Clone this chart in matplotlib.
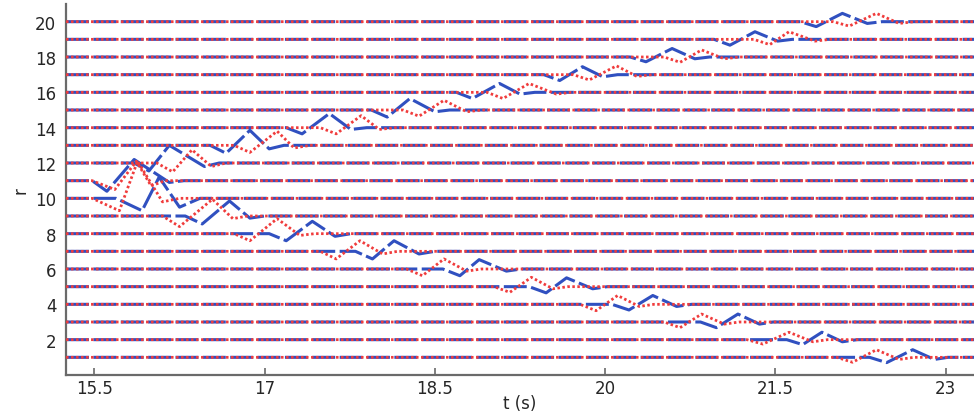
import matplotlib
matplotlib.use('Agg')
import matplotlib.pyplot as plt

# rows (r) and time window (s)
rows = list(range(1, 21))
t_lim = (15.25, 23.25)
x_ticks = [15.5, 17, 18.5, 20, 21.5, 23]
y_ticks = [2, 4, 6, 8, 10, 12, 14, 16, 18, 20]

# blue dashed trace, per row: times of (start, dip, peak, post-dip, end)
blue_times = [
    (22.33, 22.48, 22.71, 22.90, 23.02),
    (21.60, 21.74, 21.91, 22.09, 22.22),
    (20.84, 20.98, 21.17, 21.36, 21.48),
    (20.06, 20.21, 20.42, 20.63, 20.76),
    (19.33, 19.48, 19.66, 19.89, 20.02),
    (18.57, 18.72, 18.89, 19.13, 19.26),
    (17.80, 17.95, 18.14, 18.36, 18.50),
    (17.04, 17.19, 17.42, 17.62, 17.76),
    (16.30, 16.45, 16.69, 16.87, 17.00),
    (15.69, 15.92, 16.07, 16.25, 16.43),
    (15.48, 15.61, 15.85, 16.16, 16.29),
    (15.85, 15.98, 16.16, 16.47, 16.60),
    (16.52, 16.66, 16.87, 17.04, 17.17),
    (17.19, 17.33, 17.57, 17.76, 17.90),
    (17.94, 18.08, 18.28, 18.50, 18.63),
    (18.69, 18.83, 19.07, 19.25, 19.38),
    (19.46, 19.60, 19.80, 19.98, 20.11),
    (20.22, 20.36, 20.59, 20.79, 20.92),
    (20.96, 21.10, 21.32, 21.52, 21.65),
    (21.72, 21.86, 22.09, 22.31, 22.44),
]
# displacement from r at (dip, peak, post-dip)
blue_amps = [
    (-0.30, 0.43, -0.12), (-0.28, 0.42, -0.12), (-0.32, 0.45, -0.12),
    (-0.32, 0.50, -0.12), (-0.35, 0.50, -0.12), (-0.38, 0.53, -0.12),
    (-0.43, 0.60, -0.15), (-0.40, 0.70, -0.15), (-0.45, 0.85, -0.12),
    (-0.70, 1.20, -0.50), (-0.60, 1.20, -0.10), (-0.45, 1.00, -0.20),
    (-0.45, 0.85, -0.20), (-0.35, 0.80, -0.10), (-0.40, 0.65, -0.10),
    (-0.35, 0.50, -0.10), (-0.33, 0.45, -0.12), (-0.27, 0.48, -0.10),
    (-0.33, 0.43, -0.10), (-0.28, 0.47, -0.10),
]

# red dotted trace
red_times = [
    (22.04, 22.18, 22.39, 22.59, 22.72),
    (21.25, 21.39, 21.62, 21.83, 21.96),
    (20.52, 20.66, 20.85, 21.05, 21.18),
    (19.78, 19.92, 20.11, 20.30, 20.43),
    (19.02, 19.16, 19.35, 19.54, 19.67),
    (18.25, 18.39, 18.58, 18.78, 18.91),
    (17.49, 17.63, 17.84, 18.04, 18.17),
    (16.73, 16.87, 17.11, 17.31, 17.44),
    (16.10, 16.25, 16.54, 16.72, 16.85),
    (15.48, 15.72, 15.88, 16.10, 16.25),
    (15.48, 15.68, 15.87, 16.00, 16.12),
    (16.05, 16.19, 16.36, 16.53, 16.66),
    (16.73, 16.87, 17.11, 17.26, 17.40),
    (17.49, 17.63, 17.85, 18.01, 18.15),
    (18.22, 18.36, 18.58, 18.78, 18.91),
    (18.96, 19.10, 19.33, 19.57, 19.70),
    (19.72, 19.86, 20.10, 20.28, 20.41),
    (20.52, 20.66, 20.85, 21.05, 21.18),
    (21.31, 21.45, 21.62, 21.85, 21.98),
    (22.01, 22.15, 22.39, 22.59, 22.72),
]
red_amps = [
    (-0.28, 0.43, -0.12), (-0.25, 0.42, -0.12), (-0.32, 0.45, -0.12),
    (-0.36, 0.50, -0.12), (-0.32, 0.53, -0.12), (-0.38, 0.57, -0.12),
    (-0.43, 0.60, -0.15), (-0.40, 0.85, -0.10), (-0.60, 0.95, -0.15),
    (-0.70, 2.10, -0.20), (-0.50, 1.10, -0.30), (-0.50, 0.75, -0.20),
    (-0.40, 0.80, -0.15), (-0.35, 0.68, -0.10), (-0.35, 0.55, -0.10),
    (-0.35, 0.50, -0.10), (-0.30, 0.50, -0.10), (-0.30, 0.40, -0.10),
    (-0.30, 0.43, -0.10), (-0.25, 0.47, -0.10),
]

BLUE = '#3050c0'
RED = '#f03c3c'

plt.rcParams['font.family'] = ['DejaVu Sans']
plt.rcParams['lines.scale_dashes'] = False

fig = plt.figure(figsize=(9.74, 4.14), dpi=100)
ax = fig.add_axes([0.0678, 0.0918, 0.9322, 0.8961])


def trace(r, times, amps):
    s, d, p, q, e = times
    xs = [t_lim[0], s, d, p, q, e, t_lim[1]]
    ys = [r, r, r + amps[0], r + amps[1], r + amps[2], r, r]
    return xs, ys


for i, r in enumerate(rows):
    xs, ys = trace(r, blue_times[i], blue_amps[i])
    ax.plot(xs, ys, color=BLUE, lw=2.2, dashes=(16.5, 3.2),
            dash_capstyle='butt', dash_joinstyle='round', zorder=2)
for i, r in enumerate(rows):
    xs, ys = trace(r, red_times[i], red_amps[i])
    ax.plot(xs, ys, color=RED, lw=2.0, dashes=(1.8, 1.8),
            dash_capstyle='butt', dash_joinstyle='round', zorder=3)

ax.set_xlim(*t_lim)
ax.set_ylim(0, 21)
ax.set_xticks(x_ticks)
ax.set_xticklabels(['15.5', '17', '18.5', '20', '21.5', '23'])
ax.set_yticks(y_ticks)

ax.set_xlabel('t (s)', fontsize=12, color='#262626', labelpad=-2)
ax.set_ylabel('r', fontsize=12, color='#262626', labelpad=4)

for side in ('top', 'right'):
    ax.spines[side].set_visible(False)
for side in ('left', 'bottom'):
    ax.spines[side].set_color('#6a6a6a')
    ax.spines[side].set_linewidth(1.6)

ax.tick_params(direction='in', length=5, width=1.2, color='#6a6a6a',
               labelsize=12, labelcolor='#262626')
ax.tick_params(axis='y', pad=7)
ax.tick_params(axis='x', pad=3)

fig.savefig('out.png', dpi=100)
